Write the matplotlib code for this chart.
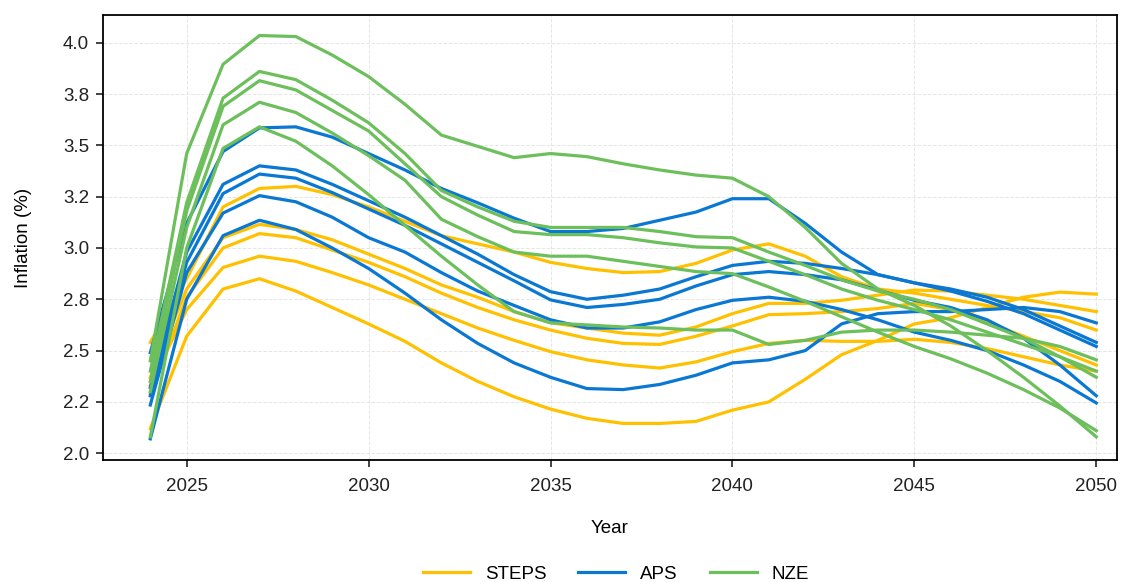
import matplotlib
matplotlib.use("Agg")
import matplotlib.pyplot as plt
from matplotlib.ticker import MultipleLocator, FormatStrFormatter

plt.rcParams['font.family'] = ['Liberation Sans', 'DejaVu Sans']

years = list(range(2024, 2051))

# STEPS runs
steps_1 = [2.54, 2.85, 3.20, 3.29, 3.30, 3.26, 3.20, 3.13, 3.06, 3.02, 2.98, 2.93, 2.90, 2.88,
           2.885, 2.925, 2.99, 3.02, 2.96, 2.86, 2.80, 2.78, 2.75, 2.72, 2.69, 2.66, 2.60]
steps_2 = [2.37, 2.80, 3.05, 3.115, 3.09, 3.04, 2.97, 2.90, 2.82, 2.76, 2.69, 2.636, 2.61, 2.585,
           2.575, 2.615, 2.68, 2.73, 2.73, 2.745, 2.77, 2.795, 2.79, 2.77, 2.75, 2.72, 2.69]
steps_3 = [2.29, 2.76, 3.00, 3.07, 3.05, 2.99, 2.93, 2.86, 2.78, 2.71, 2.65, 2.60, 2.56, 2.535,
           2.53, 2.57, 2.62, 2.675, 2.68, 2.69, 2.705, 2.73, 2.70, 2.64, 2.57, 2.50, 2.43]
steps_4 = [2.33, 2.70, 2.905, 2.96, 2.935, 2.88, 2.82, 2.75, 2.68, 2.61, 2.55, 2.495, 2.455, 2.43,
           2.415, 2.445, 2.495, 2.535, 2.55, 2.545, 2.545, 2.555, 2.54, 2.51, 2.47, 2.43, 2.40]
steps_5 = [2.12, 2.57, 2.80, 2.85, 2.79, 2.71, 2.63, 2.545, 2.44, 2.35, 2.275, 2.215, 2.17, 2.145,
           2.145, 2.155, 2.21, 2.25, 2.36, 2.48, 2.55, 2.63, 2.66, 2.71, 2.76, 2.785, 2.775]

# APS runs
aps_1 = [2.49, 3.12, 3.47, 3.585, 3.59, 3.54, 3.46, 3.38, 3.29, 3.22, 3.145, 3.08, 3.08, 3.095,
         3.135, 3.175, 3.24, 3.24, 3.12, 2.98, 2.87, 2.83, 2.80, 2.76, 2.70, 2.62, 2.54]
aps_2 = [2.32, 2.98, 3.31, 3.40, 3.38, 3.31, 3.23, 3.15, 3.06, 2.97, 2.87, 2.787, 2.75, 2.77,
         2.80, 2.86, 2.915, 2.935, 2.925, 2.90, 2.87, 2.83, 2.79, 2.74, 2.68, 2.60, 2.52]
aps_3 = [2.28, 2.93, 3.265, 3.36, 3.34, 3.27, 3.19, 3.11, 3.02, 2.93, 2.84, 2.747, 2.71, 2.725,
         2.75, 2.815, 2.87, 2.885, 2.87, 2.845, 2.795, 2.745, 2.71, 2.65, 2.56, 2.43, 2.28]
aps_4 = [2.235, 2.88, 3.17, 3.255, 3.225, 3.15, 3.05, 2.98, 2.88, 2.79, 2.72, 2.65, 2.61, 2.61,
         2.64, 2.70, 2.745, 2.76, 2.74, 2.70, 2.65, 2.59, 2.55, 2.50, 2.43, 2.35, 2.245]
aps_5 = [2.07, 2.75, 3.06, 3.135, 3.09, 3.00, 2.90, 2.78, 2.65, 2.535, 2.44, 2.37, 2.315, 2.31,
         2.335, 2.38, 2.44, 2.455, 2.50, 2.63, 2.68, 2.69, 2.69, 2.70, 2.71, 2.69, 2.635]

# NZE runs
nze_1 = [2.45, 3.46, 3.895, 4.035, 4.03, 3.94, 3.835, 3.70, 3.55, 3.495, 3.44, 3.46, 3.445, 3.41,
         3.38, 3.355, 3.34, 3.25, 3.10, 2.925, 2.80, 2.72, 2.62, 2.50, 2.37, 2.23, 2.08]
nze_2 = [2.40, 3.22, 3.73, 3.86, 3.82, 3.72, 3.61, 3.46, 3.28, 3.20, 3.13, 3.10, 3.10, 3.10,
         3.08, 3.055, 3.05, 2.98, 2.915, 2.845, 2.79, 2.75, 2.70, 2.63, 2.56, 2.47, 2.37]
nze_3 = [2.35, 3.18, 3.69, 3.815, 3.77, 3.67, 3.57, 3.41, 3.25, 3.16, 3.08, 3.065, 3.065, 3.05,
         3.025, 3.005, 3.00, 2.935, 2.87, 2.80, 2.745, 2.70, 2.65, 2.59, 2.53, 2.47, 2.40]
nze_4 = [2.30, 3.10, 3.60, 3.71, 3.66, 3.56, 3.45, 3.33, 3.14, 3.055, 2.98, 2.96, 2.96, 2.935,
         2.91, 2.885, 2.875, 2.81, 2.74, 2.665, 2.59, 2.52, 2.46, 2.39, 2.31, 2.22, 2.11]
nze_5 = [2.08, 3.00, 3.485, 3.59, 3.52, 3.40, 3.26, 3.11, 2.96, 2.82, 2.69, 2.635, 2.625, 2.615,
         2.61, 2.60, 2.60, 2.53, 2.55, 2.59, 2.60, 2.60, 2.59, 2.575, 2.56, 2.52, 2.455]

scenarios = ["STEPS", "APS", "NZE"]
colors = {"STEPS": "#FFC000", "APS": "#0A78D2", "NZE": "#6CBF5B"}
runs = {
    "STEPS": [steps_1, steps_2, steps_3, steps_4, steps_5],
    "APS": [aps_1, aps_2, aps_3, aps_4, aps_5],
    "NZE": [nze_1, nze_2, nze_3, nze_4, nze_5],
}

fig = plt.figure(figsize=(11.33, 5.82), dpi=100)
ax = fig.add_axes([103 / 1133, 122 / 582, 1014 / 1133, 445 / 582])

for sc in scenarios:
    for i, r in enumerate(runs[sc]):
        ax.plot(years, r, color=colors[sc], lw=2.3, label=sc if i == 0 else None)

ax.set_xlim(2022.7, 2050.57)
ax.set_ylim(1.967, 4.135)
ax.xaxis.set_major_locator(MultipleLocator(5))
ax.yaxis.set_major_locator(MultipleLocator(0.25))
ax.yaxis.set_major_formatter(FormatStrFormatter('%.1f'))
ax.grid(True, color='#e6e6e6', linestyle='--', linewidth=0.7)
ax.set_axisbelow(True)
for s in ax.spines.values():
    s.set_linewidth(1.3)
ax.tick_params(axis='x', length=5, width=1.2, pad=8, labelsize=13.5, colors='#222222')
ax.tick_params(axis='y', length=5, width=1.2, pad=5, labelsize=13.5, colors='#222222')

ax.set_xlabel("Year", fontsize=13.5, labelpad=18)
ax.set_ylabel("Inflation (%)", fontsize=13.5, labelpad=22)

fig.legend(loc='center', bbox_to_anchor=(616 / 1133, 8 / 582), ncol=3, frameon=False,
           fontsize=13.5, handlelength=2.5, handletextpad=0.8, columnspacing=1.7)

fig.savefig("out.png", dpi=100)
